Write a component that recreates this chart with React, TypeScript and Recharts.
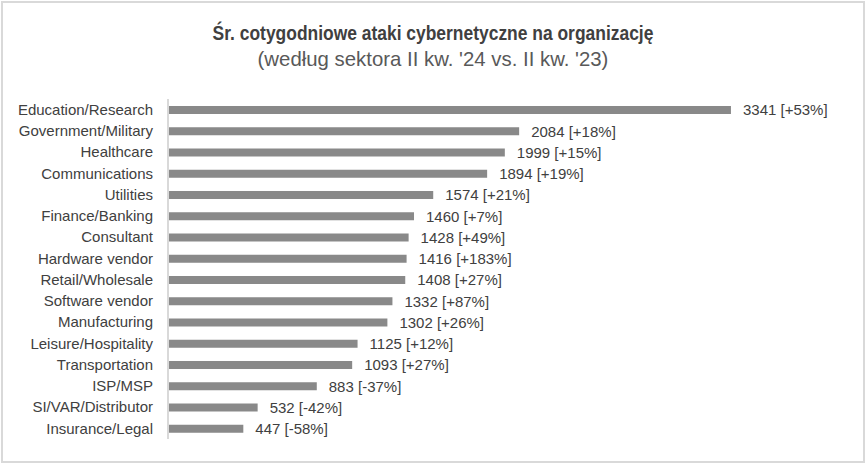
import { BarChart, Bar, XAxis, YAxis, LabelList } from "recharts";

const sectors = [
  "Education/Research",
  "Government/Military",
  "Healthcare",
  "Communications",
  "Utilities",
  "Finance/Banking",
  "Consultant",
  "Hardware vendor",
  "Retail/Wholesale",
  "Software vendor",
  "Manufacturing",
  "Leisure/Hospitality",
  "Transportation",
  "ISP/MSP",
  "SI/VAR/Distributor",
  "Insurance/Legal",
];

const attacks = [3341, 2084, 1999, 1894, 1574, 1460, 1428, 1416, 1408, 1332, 1302, 1125, 1093, 883, 532, 447];

const yoyChange = [
  "+53%", "+18%", "+15%", "+19%", "+21%", "+7%", "+49%", "+183%",
  "+27%", "+87%", "+26%", "+12%", "+27%", "-37%", "-42%", "-58%",
];

const data = sectors.map((name, i) => ({
  name,
  attacks: attacks[i],
  label: `${attacks[i]} [${yoyChange[i]}]`,
}));

const font = "'Liberation Sans', Arial, sans-serif";

export default function App() {
  return (
    <div style={{ position: "absolute", left: 0, top: 0, width: 866, height: 464, background: "#fff" }}>
      <div
        style={{
          position: "absolute",
          left: 1,
          top: 1,
          width: 860,
          height: 458,
          border: "2px solid #d9d9d9",
        }}
      />
      <div
        style={{
          position: "absolute",
          left: 0,
          top: 21,
          width: 866,
          textAlign: "center",
          fontFamily: font,
          fontWeight: "bold",
          fontSize: 21,
          color: "#404040",
          transform: "scaleX(0.83)",
        }}
      >
        Śr. cotygodniowe ataki cybernetyczne na organizację
      </div>
      <div
        style={{
          position: "absolute",
          left: 0,
          top: 47,
          width: 866,
          textAlign: "center",
          fontFamily: font,
          fontSize: 21,
          color: "#595959",
          transform: "scaleX(0.97)",
        }}
      >
        (według sektora II kw. '24 vs. II kw. '23)
      </div>
      <div style={{ position: "absolute", left: 0, top: 0 }}>
        <BarChart
          width={866}
          height={464}
          data={data}
          layout="vertical"
          margin={{ top: 99, right: 24, bottom: 25, left: 0 }}
          barSize={8}
        >
          <XAxis type="number" domain={[0, 4000]} hide />
          <YAxis
            type="category"
            dataKey="name"
            width={168}
            tickLine={false}
            axisLine={{ stroke: "#d9d9d9", strokeWidth: 2 }}
            tickMargin={9}
            interval={0}
            tick={{ fill: "#404040", fontSize: 15, fontFamily: font }}
          />
          <Bar dataKey="attacks" fill="#898989" isAnimationActive={false}>
            <LabelList
              dataKey="label"
              position="right"
              offset={12}
              fill="#404040"
              fontSize={15}
              fontFamily={font}
            />
          </Bar>
        </BarChart>
      </div>
    </div>
  );
}
